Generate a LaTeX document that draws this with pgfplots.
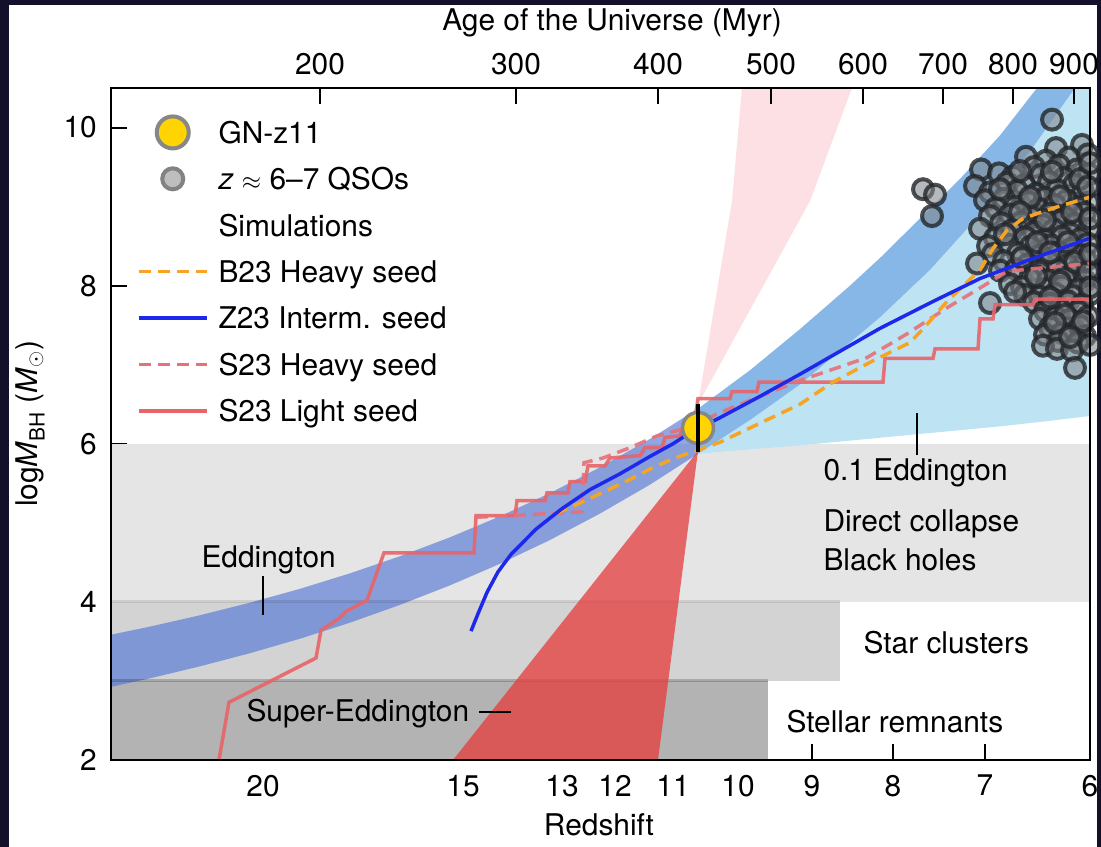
\documentclass[border=0pt]{standalone}
\usepackage{pgfplots}
\pgfplotsset{compat=1.18}
\usepackage{fontspec}
\setmainfont{TeX Gyre Heros}

\definecolor{spacebg}{RGB}{18,16,42}
\definecolor{dcgray}{RGB}{229,229,229}
\definecolor{scgray}{RGB}{211,211,211}
\definecolor{srgray}{RGB}{179,179,179}
\definecolor{eddblue}{RGB}{85,120,215}
\definecolor{eddblueR}{RGB}{135,183,230}
\definecolor{tenthblue}{RGB}{190,227,243}
\definecolor{conered}{RGB}{230,60,60}
\definecolor{conepink}{RGB}{250,200,205}
\definecolor{bseed}{RGB}{245,165,35}
\definecolor{zseed}{RGB}{30,40,235}
\definecolor{sheavy}{RGB}{232,112,120}
\definecolor{slight}{RGB}{232,100,105}
\definecolor{gnyellow}{RGB}{255,212,0}
\definecolor{gnedge}{RGB}{135,135,135}
\definecolor{qsofill}{RGB}{125,130,135}
\definecolor{qsoedge}{RGB}{35,38,42}
\definecolor{qsolegfill}{RGB}{190,190,190}
\definecolor{qsolegedge}{RGB}{130,130,130}

\newcommand{\bigfont}{\fontsize{30}{36}\selectfont}

\pgfplotsset{
  chartframe/.style={
    at={(111bp,87bp)}, anchor=south west,
    scale only axis, width=979bp, height=672bp,
    xmin=111, xmax=1090, ymin=2, ymax=10.5,
    axis line style={line width=2.5bp, black},
    tick align=inside, major tick length=16bp,
    tick style={line width=2bp, black},
    /pgf/number format/assume math mode=true,
    font=\bigfont,
  },
  linelegend/.style={legend image code/.code={
      \path[draw=none, fill=none] (0bp,-6bp) rectangle (68bp,6bp);
      \draw[##1] (0bp,0bp) -- (68bp,0bp);}},
  marklegend/.style={legend image code/.code={
      \path[draw=none, fill=none] (0bp,-6bp) rectangle (68bp,6bp);
      \draw[##1, overlay] plot coordinates {(34bp,0bp)};}},
  emptylegend/.style={legend image code/.code={
      \path[draw=none, fill=none] (0bp,-6bp) rectangle (68bp,6bp);}},
}

\begin{document}
\begin{tikzpicture}
\useasboundingbox (0,0) rectangle (1101bp,847bp);
\fill[spacebg] (0,0) rectangle (1101bp,847bp);
\fill[white] (9bp,0) rectangle (1097bp,842bp);

\begin{axis}[chartframe,
  clip mode=individual,
  xtick pos=left, ytick pos=left,
  xtick={263,463,562,615,673,738,812,893,985,1090},
  xticklabels={20,15,13,12,11,10,9,8,7,6},
  ytick={2,4,6,8,10}, yticklabels={2,4,6,8,10},
  xticklabel style={inner sep=0pt, yshift=-15bp},
  yticklabel style={inner sep=0pt, xshift=-14bp},
  legend style={at={(axis cs:137,10.105)}, anchor=north west,
    draw=none, fill=none, inner sep=0pt, outer sep=0pt,
    row sep=20bp, column sep=10bp, font=\bigfont,
    nodes={inner sep=0pt, text height=24bp, text depth=2.4bp}},
  legend cell align=left,
]

% legend entries
\addlegendimage{marklegend, only marks, mark=*, mark size=16bp,
  mark options={fill=gnyellow, draw=gnedge, line width=4bp}}
\addlegendentry{GN-z11}
\addlegendimage{marklegend, only marks, mark=*, mark size=10.5bp,
  mark options={fill=qsolegfill, draw=qsolegedge, line width=4bp}}
\addlegendentry{\textit{z} $\approx$ 6--7 QSOs}
\addlegendimage{emptylegend}
\addlegendentry{Simulations}
\addlegendimage{linelegend, bseed, line width=3.5bp, dash pattern=on 12bp off 7bp}
\addlegendentry{B23 Heavy seed}
\addlegendimage{linelegend, zseed, line width=3.5bp}
\addlegendentry{Z23 Interm. seed}
\addlegendimage{linelegend, sheavy, line width=3.5bp, dash pattern=on 12bp off 7bp}
\addlegendentry{S23 Heavy seed}
\addlegendimage{linelegend, slight, line width=3.5bp}
\addlegendentry{S23 Light seed}

% seed formation regions
\addplot[forget plot, fill=dcgray, draw=none] coordinates {(111,4) (1090,4) (1090,6) (111,6)} -- cycle;
\addplot[forget plot, fill=scgray, draw=none] coordinates {(111,3) (840,3) (840,4) (111,4)} -- cycle;
\addplot[forget plot, fill=srgray, draw=none] coordinates {(111,2) (768,2) (768,3) (111,3)} -- cycle;

% 0.1 Eddington growth fan
\addplot[forget plot, fill=tenthblue, draw=none] coordinates {
  (698,5.874) (750,5.93) (800,5.98) (850,6.04) (900,6.10) (950,6.16)
  (1000,6.22) (1050,6.29) (1095,6.36) (1095,10.65) (1084,10.65)
  (1075,10.5) (1030,9.7) (980,8.9) (930,8.2) (880,7.6) (800,6.75) (750,6.3)} -- cycle;

% Eddington growth, after GN-z11
\addplot[forget plot, fill=eddblueR, draw=none] coordinates {
  (698,6.444) (750,6.93) (800,7.45) (850,8.0) (880,8.35) (920,8.85)
  (960,9.35) (1000,9.9) (1037,10.5) (1045,10.65) (1084,10.65)
  (1075,10.5) (1030,9.7) (980,8.9) (930,8.2) (880,7.6) (800,6.75)
  (750,6.3) (698,5.874)} -- cycle;

% Eddington growth, before GN-z11
\addplot[forget plot, fill=eddblue, fill opacity=0.65, draw=none] coordinates {
  (111,3.585) (150,3.687) (200,3.831) (250,3.990) (300,4.165) (350,4.361)
  (400,4.577) (450,4.817) (500,5.082) (550,5.376) (600,5.702) (650,6.061)
  (698,6.444) (698,5.874) (650,5.483) (600,5.117) (550,4.783) (500,4.482)
  (450,4.209) (400,3.962) (350,3.737) (300,3.534) (250,3.351) (200,3.185)
  (150,3.033) (111,2.925)} -- cycle;

% upper edges of the lower regions
\addplot[forget plot, black, draw opacity=0.1, line width=3bp] coordinates {(111,4) (840,4)};
\addplot[forget plot, black, draw opacity=0.2, line width=3bp] coordinates {(111,3) (768,3)};

% forward cone
\addplot[forget plot, fill=conepink, fill opacity=0.55, draw=none] coordinates {
  (698,6.50) (732,9.07) (742,10.5) (745,10.7) (860,10.7) (852,10.5) (810,9.07)} -- cycle;
% super-Eddington cone
\addplot[forget plot, fill=conered, fill opacity=0.75, draw=none] coordinates {
  (698,5.91) (453,2) (658,2)} -- cycle;

% z ~ 6-7 quasars
\addplot[forget plot, only marks, mark=*, mark size=10bp,
  mark options={fill=qsofill, fill opacity=0.55, draw=qsoedge, draw opacity=0.8, line width=4bp}]
  coordinates {
  (1052,10.10)
  (1056,9.74) (1082,9.78)
  (1026,9.63) (1046,9.58) (1069,9.62) (1088,9.66)
  (981,9.47) (999,9.42) (1034,9.50) (1059,9.52) (1077,9.47)
  (1013,9.38) (1041,9.40) (1064,9.36) (1089,9.41)
  (975,9.26) (1007,9.30) (1024,9.27) (1049,9.31) (1074,9.28)
  (990,9.18) (1017,9.20) (1036,9.16) (1057,9.21) (1083,9.19)
  (985,9.08) (1004,9.10) (1028,9.06) (1045,9.11) (1067,9.08) (1088,9.05)
  (996,8.98) (1015,9.00) (1039,8.97) (1055,9.02) (1078,8.99)
  (990,8.88) (1010,8.90) (1031,8.87) (1050,8.91) (1065,8.86) (1085,8.92)
  (1001,8.79) (1021,8.80) (1042,8.77) (1060,8.82) (1075,8.78)
  (980,8.72) (1012,8.70) (1034,8.68) (1054,8.71) (1070,8.66) (1089,8.72)
  (995,8.60) (1025,8.61) (1045,8.58) (1062,8.62) (1080,8.59)
  (988,8.50) (1008,8.52) (1030,8.49) (1051,8.51) (1072,8.47) (1088,8.53)
  (993,8.40) (1018,8.41) (1040,8.38) (1059,8.42) (1080,8.39)
  (977,8.28) (1004,8.31) (1028,8.27) (1049,8.30) (1068,8.26) (1086,8.32)
  (1000,8.19) (1016,8.21) (1039,8.18) (1058,8.20) (1075,8.17)
  (1010,8.02) (1030,8.09) (1048,8.07) (1065,8.10) (1085,8.06)
  (1022,7.98) (1045,7.96) (1062,7.99) (1078,7.95)
  (1025,7.88) (1040,7.86) (1055,7.90) (1072,7.87) (1090,7.89)
  (990,7.78) (1034,7.79) (1050,7.77) (1068,7.80) (1082,7.76)
  (1045,7.68) (1060,7.70) (1078,7.67)
  (1040,7.58) (1055,7.60) (1070,7.57) (1088,7.61)
  (1050,7.47) (1067,7.46) (1080,7.49)
  (1045,7.38) (1062,7.40) (1085,7.36)
  (1058,7.30) (1078,7.28)
  (1043,7.24) (1057,7.20) (1072,7.18)
  (1075,6.96)
  (923,9.22) (935,9.15) (932,8.88)
  (1020,9.45) (1052,9.44) (1080,9.35) (1000,9.22) (1030,9.12) (1060,9.13)
  (1020,8.93) (1045,8.83) (1072,8.93) (1005,8.65) (1037,8.55) (1068,8.55)
  (1022,8.35) (1050,8.42) (1075,8.30) (1036,8.12) (1060,8.05) (1088,8.18)
  (1015,7.92) (1050,7.85) (1065,7.63) (1083,7.55) (1055,7.53) (1070,7.35)
  (1090,7.25) (1088,9.25) (1090,8.85) (1090,8.40) (1090,7.98) (1090,9.55)};

% simulated growth tracks
\addplot[forget plot, slight, draw opacity=0.9, line width=3.5bp] coordinates {
  (219,2.0) (229,2.73) (316,3.29) (321,3.64) (340,3.80) (346,3.88) (364,4.0)
  (367,4.02) (384,4.62) (474,4.62) (476,5.09) (515,5.09) (517,5.28) (545,5.28)
  (547,5.38) (568,5.38) (570,5.52) (585,5.52) (588,5.72) (605,5.72) (610,5.82)
  (640,5.85) (645,5.95) (662,5.95) (665,6.08) (680,6.10) (685,6.30) (695,6.32)
  (698,6.57) (730,6.57) (732,6.66) (757,6.66) (759,6.78) (883,6.78) (885,7.08)
  (933,7.08) (935,7.20) (978,7.20) (980,7.58) (993,7.58) (995,7.76) (1033,7.76)
  (1035,7.83) (1090,7.83)};
\addplot[forget plot, sheavy, draw opacity=0.9, line width=3.5bp, dash pattern=on 12bp off 7bp] coordinates {
  (476,5.07) (555,5.12) (582,5.14) (584,5.76) (603,5.82) (630,5.95) (657,6.10)
  (693,6.22) (717,6.38) (760,6.60) (800,6.80) (867,7.09) (907,7.39) (947,7.72)
  (980,7.97) (1007,8.18) (1030,8.21) (1090,8.28)};
\addplot[forget plot, bseed, line width=3.5bp, dash pattern=on 12bp off 7bp] coordinates {
  (556,5.12) (580,5.25) (607,5.41) (630,5.55) (653,5.70) (675,5.82) (698,5.92)
  (720,6.02) (750,6.20) (800,6.50) (833,6.78) (873,7.05) (910,7.28) (925,7.48)
  (947,7.80) (980,8.20) (993,8.47) (1007,8.70) (1023,8.85) (1053,8.98) (1090,9.12)};
\addplot[forget plot, zseed, line width=3.5bp] coordinates {
  (471,3.63) (478,3.85) (487,4.12) (498,4.38) (511,4.60) (536,4.92) (561,5.17) (590,5.42)
  (620,5.62) (650,5.84) (673,6.00) (690,6.14) (720,6.33) (760,6.60) (800,6.88)
  (840,7.17) (880,7.46) (933,7.80) (980,8.09) (1030,8.33) (1090,8.60)};

% GN-z11
\addplot[forget plot, only marks, mark=*, mark size=15.5bp,
  mark options={fill=gnyellow, draw=gnedge, line width=3.5bp}] coordinates {(698,6.20)};
\addplot[forget plot, black, line width=4bp] coordinates {(698,5.89) (698,6.50)};

% frame on top of the filled regions
\draw[line width=2.5bp] (rel axis cs:0,0) rectangle (rel axis cs:1,1);

% annotations
\node[anchor=base west] at (axis cs:198,4.441) {Eddington};
\draw[line width=1.5bp] (axis cs:263,4.33) -- (axis cs:263,3.83);
\node[anchor=base west] at (axis cs:243,2.493) {Super-Eddington};
\draw[line width=1.5bp] (axis cs:479,2.607) -- (axis cs:511,2.607);
\node[anchor=base west] at (axis cs:820,5.529) {0.1 Eddington};
\draw[line width=1.5bp] (axis cs:917,6.389) -- (axis cs:917,5.858);
\node[anchor=base west] at (axis cs:820,4.884) {Direct collapse};
\node[anchor=base west] at (axis cs:820,4.391) {Black holes};
\node[anchor=base west] at (axis cs:860,3.341) {Star clusters};
\node[anchor=base west] at (axis cs:783,2.342) {Stellar remnants};

% axis titles
\node[anchor=base] at (axis cs:599,1.051) {Redshift};
\node[anchor=base] at (axis cs:612,11.221) {Age of the Universe (Myr)};
\node[anchor=base, rotate=90] at (axis cs:38,6.25)
  {log\textit{M}\textsubscript{BH} (\textit{M}\textsubscript{$\odot$})};
\end{axis}

% cosmic time scale along the top
\begin{axis}[chartframe,
  hide y axis,
  xtick pos=right, xticklabel pos=right,
  xtick={320,516,658,771,863,943,1013,1074},
  xticklabels={200,300,400,500,600,700,800,900},
  xticklabel style={inner sep=0pt, yshift=13bp},
]
\addplot[draw=none, forget plot] coordinates {(111,2) (1090,10.5)};
\end{axis}
\end{tikzpicture}
\end{document}
